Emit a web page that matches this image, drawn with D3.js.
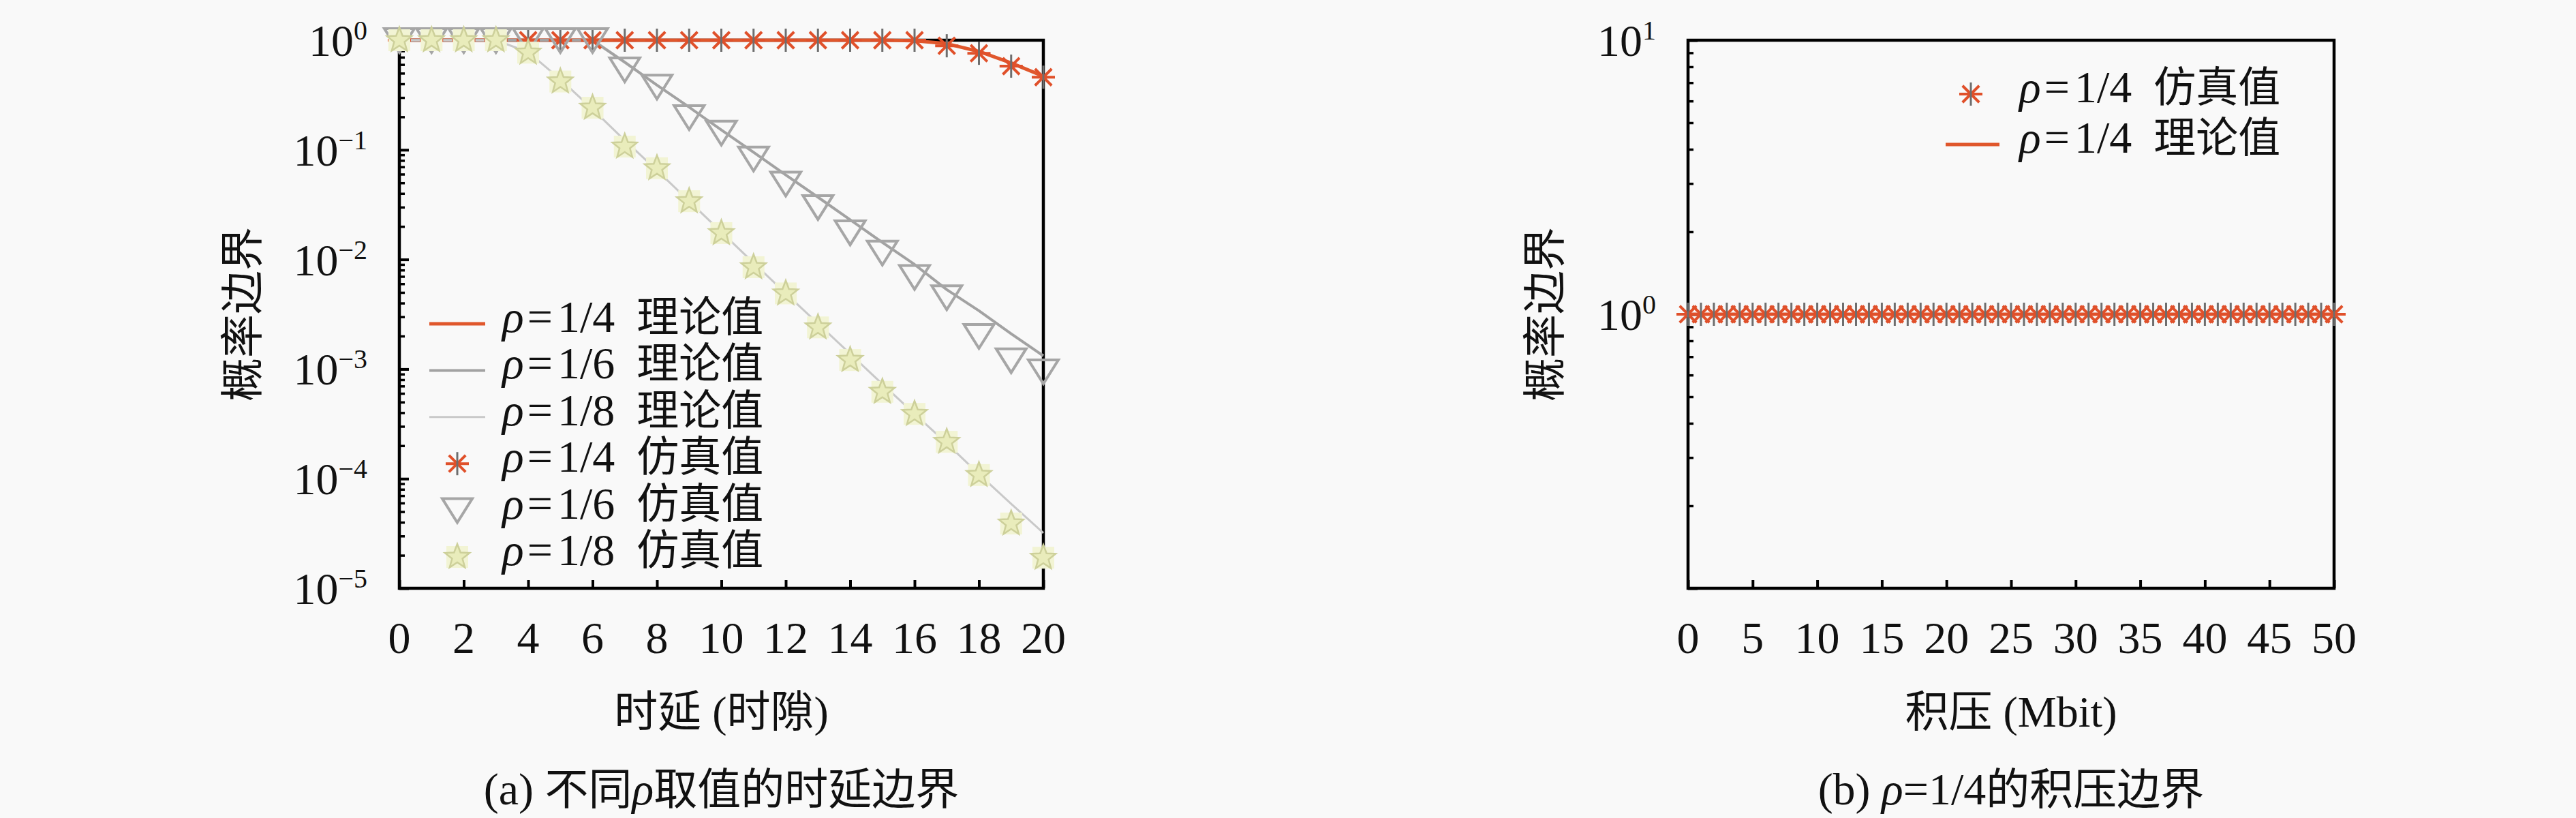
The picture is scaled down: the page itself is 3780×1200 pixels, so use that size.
<!DOCTYPE html>
<html>
<head>
<meta charset="utf-8">
<script src="https://cdn.jsdelivr.net/npm/d3@7"></script>
<style>
  body { margin: 0; background: #f9f9f9; }
  text { fill: #111; }
</style>
</head>
<body>
<svg id="fig" width="3780" height="1200"></svg>
<script>
// ---- data ----
var slots = [0, 1, 2, 3, 4, 5, 6, 7, 8, 9, 10, 11, 12, 13, 14, 15, 16, 17, 18, 19, 20];

// theory curves (lines)
var theo4 = [1, 1, 1, 1, 1, 1, 1, 1, 1, 1, 1, 1, 1, 1, 1, 1, 0.99, 0.93, 0.79, 0.62, 0.47];
var theo6 = [1, 1, 1, 1, 1, 1, 1, 0.63, 0.39, 0.245, 0.152, 0.095, 0.059, 0.037, 0.023, 0.0143, 0.009, 0.0053, 0.0034, 0.0021, 0.00132];
var theo8 = [1, 1, 1, 1, 0.78, 0.44, 0.235, 0.122, 0.065, 0.034, 0.0178, 0.0093, 0.0049, 0.0026, 0.00138, 0.00073, 0.00039, 0.00021, 0.00011, 0.000059, 0.000032];

// simulation points (markers)
var sim4 = [1, 1, 1, 1, 1, 1, 1, 1, 1, 1, 1, 1, 1, 1, 1, 1, 1, 0.89, 0.76, 0.58, 0.46];
var sim6 = [1, 1, 1, 1, 1, 1, 1, 0.54, 0.376, 0.198, 0.143, 0.083, 0.049, 0.030, 0.0176, 0.0115, 0.0069, 0.0045, 0.0020, 0.0012, 0.00095];
var sim8 = [1, 1, 1, 1, 0.77, 0.42, 0.242, 0.107, 0.068, 0.034, 0.0174, 0.0085, 0.0049, 0.0024, 0.00121, 0.00062, 0.00039, 0.000217, 0.000108, 0.000039, 0.000019];

// panel (b): backlog in Mbit
var backlog = [0, 1, 2, 3, 4, 5, 6, 7, 8, 9, 10, 11, 12, 13, 14, 15, 16, 17, 18, 19, 20,
               21, 22, 23, 24, 25, 26, 27, 28, 29, 30, 31, 32, 33, 34, 35, 36, 37, 38, 39, 40,
               41, 42, 43, 44, 45, 46, 47, 48, 49, 50];
var simB  = [1, 1, 1, 1, 1, 1, 1, 1, 1, 1, 1, 1, 1, 1, 1, 1, 1, 1, 1, 1, 1,
             1, 1, 1, 1, 1, 1, 1, 1, 1, 1, 1, 1, 1, 1, 1, 1, 1, 1, 1, 1,
             1, 1, 1, 1, 1, 1, 1, 1, 1, 1];
var theoB = [1, 1, 1, 1, 1, 1, 1, 1, 1, 1, 1, 1, 1, 1, 1, 1, 1, 1, 1, 1, 1,
             1, 1, 1, 1, 1, 1, 1, 1, 1, 1, 1, 1, 1, 1, 1, 1, 1, 1, 1, 1,
             1, 1, 1, 1, 1, 1, 1, 1, 1, 1];

// ticks
var xTicksA = [0, 2, 4, 6, 8, 10, 12, 14, 16, 18, 20];
var yExpA   = [0, -1, -2, -3, -4, -5];
var xTicksB = [0, 5, 10, 15, 20, 25, 30, 35, 40, 45, 50];
var yExpB   = [1, 0];

// text
var ylabel = '概率边界';
var xlabelA = '时延 (时隙)';
var xlabelB = '积压 (Mbit)';
var legendA = [
  { rho: '1/4', word: '理论值', key: 'l4' },
  { rho: '1/6', word: '理论值', key: 'l6' },
  { rho: '1/8', word: '理论值', key: 'l8' },
  { rho: '1/4', word: '仿真值', key: 'm4' },
  { rho: '1/6', word: '仿真值', key: 'm6' },
  { rho: '1/8', word: '仿真值', key: 'm8' }
];
var legendB = [
  { rho: '1/4', word: '仿真值', key: 'm4' },
  { rho: '1/4', word: '理论值', key: 'l4' }
];

// ---- styles ----
var SERIF = "'Liberation Serif', 'Noto Sans CJK SC', serif";
var CJK = "'Noto Sans CJK SC', sans-serif";
var lineStyle = {
  l4: { color: '#e0572c', width: 5 },
  l6: { color: '#a2a2a2', width: 4 },
  l8: { color: '#c9c9c9', width: 3 }
};

var svg = d3.select('#fig');
svg.append('rect').attr('width', 3780).attr('height', 1200).attr('fill', '#f9f9f9');

var yTop = 59, yBot = 863;

var xA = d3.scaleLinear().domain([0, 20]).range([586, 1531]);
var yA = d3.scaleLog().domain([1e-5, 1]).range([yBot, yTop]);
var xB = d3.scaleLinear().domain([0, 50]).range([2477, 3425]);
var yB = d3.scaleLog().domain([0.1, 10]).range([yBot, yTop]);

// ---- marker drawing ----
function drawAsterisk(g, cx, cy) {
  var r = 17, d = r * 0.72;
  g.append('path')
    .attr('d', 'M' + (cx - r) + ',' + cy + 'L' + (cx + r) + ',' + cy +
               'M' + (cx - d) + ',' + (cy - d) + 'L' + (cx + d) + ',' + (cy + d) +
               'M' + (cx - d) + ',' + (cy + d) + 'L' + (cx + d) + ',' + (cy - d))
    .attr('stroke', '#e0502a').attr('stroke-width', 4).attr('fill', 'none');
  g.append('path')
    .attr('d', 'M' + cx + ',' + (cy - r) + 'L' + cx + ',' + (cy + r))
    .attr('stroke', '#6e6e6e').attr('stroke-width', 3).attr('fill', 'none');
}

function drawTriangle(g, cx, cy) {
  g.append('path')
    .attr('d', 'M' + (cx - 22) + ',' + (cy - 17) + 'L' + (cx + 22) + ',' + (cy - 17) +
               'L' + cx + ',' + (cy + 18) + 'Z')
    .attr('stroke', '#a6a6a6').attr('stroke-width', 4).attr('fill', 'none')
    .attr('stroke-linejoin', 'miter');
}

function drawStar(g, cx, cy) {
  g.append('rect').attr('x', cx - 16).attr('y', cy - 16).attr('width', 32).attr('height', 32)
    .attr('fill', '#f2f4d4');
  var pts = [];
  for (var k = 0; k < 10; k++) {
    var rr = (k % 2 === 0) ? 19 : 8;
    var a = -Math.PI / 2 + k * Math.PI / 5;
    pts.push([cx + rr * Math.cos(a), cy + rr * Math.sin(a)]);
  }
  g.append('path').attr('d', 'M' + pts.join('L') + 'Z')
    .attr('fill', '#e9ecbb').attr('stroke', '#cdd09a').attr('stroke-width', 2.5);
}

var markerFn = { m4: drawAsterisk, m6: drawTriangle, m8: drawStar };

// ---- axes frame ----
function minorTicks(scale) {
  var d = scale.domain(), out = [];
  var lo = Math.round(Math.log10(d[0])), hi = Math.round(Math.log10(d[1]));
  for (var e = lo; e < hi; e++) {
    for (var m = 2; m <= 9; m++) out.push(m * Math.pow(10, e));
  }
  return out;
}

function drawFrame(g, x, y, xTicks, yExps, yMajor) {
  var x0 = x.range()[0], x1 = x.range()[1];

  // bottom ticks (inward)
  var ax = g.append('g').attr('transform', 'translate(0,' + yBot + ')')
    .call(d3.axisBottom(x).tickValues(xTicks).tickSize(-12).tickSizeOuter(0).tickFormat(''));
  ax.select('.domain').remove();
  ax.selectAll('line').attr('stroke', '#000').attr('stroke-width', 4);

  // left ticks, major + minor (inward)
  var ay = g.append('g').attr('transform', 'translate(' + x0 + ',0)')
    .call(d3.axisLeft(y).tickValues(yMajor).tickSize(-14).tickSizeOuter(0).tickFormat(''));
  ay.select('.domain').remove();
  ay.selectAll('line').attr('stroke', '#000').attr('stroke-width', 4);
  var am = g.append('g').attr('transform', 'translate(' + x0 + ',0)')
    .call(d3.axisLeft(y).tickValues(minorTicks(y)).tickSize(-8).tickSizeOuter(0).tickFormat(''));
  am.select('.domain').remove();
  am.selectAll('line').attr('stroke', '#000').attr('stroke-width', 3.5);

  // box
  g.append('rect').attr('x', x0).attr('y', yTop).attr('width', x1 - x0).attr('height', yBot - yTop)
    .attr('fill', 'none').attr('stroke', '#000').attr('stroke-width', 4.5);

  // x tick labels
  g.selectAll('.xtl').data(xTicks).enter().append('text')
    .attr('x', function (d) { return x(d); })
    .attr('y', yBot + 95)
    .attr('text-anchor', 'middle')
    .attr('font-family', SERIF).attr('font-size', 66)
    .text(function (d) { return d; });

  // y tick labels 10^k
  yExps.forEach(function (e) {
    var t = g.append('text')
      .attr('x', x0 - 47).attr('y', y(Math.pow(10, e)) + 23)
      .attr('text-anchor', 'end')
      .attr('font-family', SERIF).attr('font-size', 66);
    t.append('tspan').text('10');
    t.append('tspan').attr('dy', -24).attr('font-size', 40)
      .text(e < 0 ? '\u2212' + (-e) : '' + e);
  });
}

function drawYLabel(g, cx) {
  g.append('text')
    .attr('transform', 'translate(' + cx + ',' + ((yTop + yBot) / 2) + ') rotate(-90)')
    .attr('text-anchor', 'middle').attr('dy', '0.36em')
    .attr('font-family', CJK).attr('font-size', 64)
    .text(ylabel);
}

function drawXLabel(g, cx, txt) {
  g.append('text').attr('x', cx).attr('y', 1066)
    .attr('text-anchor', 'middle')
    .attr('font-family', SERIF).attr('font-size', 64)
    .text(txt);
}

function legendText(g, x, y, rho, word) {
  var t = g.append('text').attr('x', x).attr('y', y)
    .attr('font-family', SERIF).attr('font-size', 66);
  t.append('tspan').attr('font-style', 'italic').text('\u03C1');
  t.append('tspan').attr('dx', 5).text('=');
  t.append('tspan').attr('dx', 7).text(rho);
  t.append('tspan').attr('dx', 32).attr('font-family', CJK).attr('font-size', 62).text(word);
}

function legendEntry(g, item, y, lineX0, lineX1, markX, textX) {
  if (lineStyle[item.key]) {
    var s = lineStyle[item.key];
    g.append('line').attr('x1', lineX0).attr('x2', lineX1).attr('y1', y).attr('y2', y)
      .attr('stroke', s.color).attr('stroke-width', s.width);
  } else {
    markerFn[item.key](g, markX, y);
  }
  legendText(g, textX, y + 12, item.rho, item.word);
}

// ---- panel (a) ----
var gA = svg.append('g');
drawFrame(gA, xA, yA, xTicksA, yExpA, yExpA.map(function (e) { return Math.pow(10, e); }));
drawYLabel(gA, 355);
drawXLabel(gA, (xA.range()[0] + xA.range()[1]) / 2, xlabelA);

var lineA = d3.line()
  .x(function (d) { return xA(d[0]); })
  .y(function (d) { return yA(d[1]); });

[['l4', theo4], ['l6', theo6], ['l8', theo8]].forEach(function (p) {
  var s = lineStyle[p[0]];
  gA.append('path')
    .datum(slots.map(function (x, i) { return [x, p[1][i]]; }))
    .attr('d', lineA)
    .attr('fill', 'none').attr('stroke', s.color).attr('stroke-width', s.width)
    .attr('stroke-linejoin', 'round');
});

[['m4', sim4], ['m6', sim6], ['m8', sim8]].forEach(function (p) {
  var mg = gA.append('g');
  slots.forEach(function (x, i) {
    markerFn[p[0]](mg, xA(x), yA(p[1][i]));
  });
});

var legAg = gA.append('g');
legendA.forEach(function (item, i) {
  legendEntry(legAg, item, 475 + i * 68.4, 630, 712, 671, 737);
});

// caption (a)
var capA = gA.append('text').attr('x', (xA.range()[0] + xA.range()[1]) / 2).attr('y', 1180)
  .attr('text-anchor', 'middle').attr('font-family', SERIF).attr('font-size', 66);
capA.append('tspan').text('(a) ');
capA.append('tspan').attr('font-family', CJK).attr('font-size', 64).text('不同');
capA.append('tspan').attr('font-style', 'italic').text('\u03C1');
capA.append('tspan').attr('font-family', CJK).attr('font-size', 64).text('取值的时延边界');

// ---- panel (b) ----
var gB = svg.append('g');
drawFrame(gB, xB, yB, xTicksB, yExpB, [0.1, 1, 10]);
drawYLabel(gB, 2266);
drawXLabel(gB, (xB.range()[0] + xB.range()[1]) / 2, xlabelB);

var lineB = d3.line()
  .x(function (d) { return xB(d[0]); })
  .y(function (d) { return yB(d[1]); });

gB.append('path')
  .datum(backlog.map(function (x, i) { return [x, theoB[i]]; }))
  .attr('d', lineB)
  .attr('fill', 'none').attr('stroke', lineStyle.l4.color).attr('stroke-width', lineStyle.l4.width);

var mgB = gB.append('g');
backlog.forEach(function (x, i) {
  drawAsterisk(mgB, xB(x), yB(simB[i]));
});

var legBg = gB.append('g');
legendB.forEach(function (item, i) {
  legendEntry(legBg, item, 138 + i * 74, 2855, 2934, 2892, 2963);
});

// caption (b)
var capB = gB.append('text').attr('x', (xB.range()[0] + xB.range()[1]) / 2).attr('y', 1180)
  .attr('text-anchor', 'middle').attr('font-family', SERIF).attr('font-size', 66);
capB.append('tspan').text('(b) ');
capB.append('tspan').attr('font-style', 'italic').text('\u03C1');
capB.append('tspan').text('=1/4');
capB.append('tspan').attr('font-family', CJK).attr('font-size', 64).text('的积压边界');
</script>
</body>
</html>
